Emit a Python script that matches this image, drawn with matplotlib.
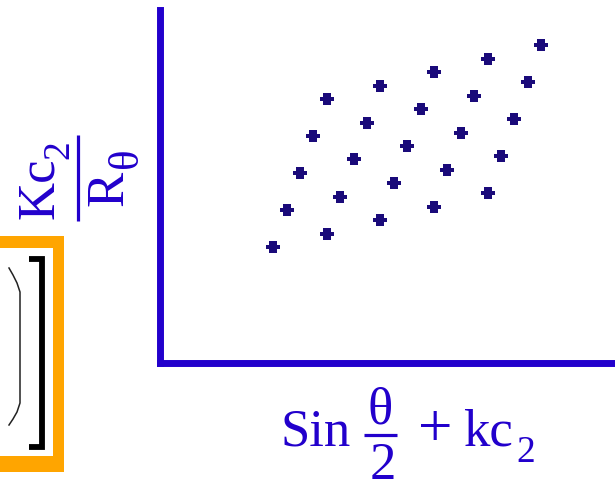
import matplotlib
matplotlib.use('Agg')
import matplotlib.pyplot as plt
from matplotlib.patches import Rectangle

# Zimm-type grid: 5 concentrations (rows) x 5 angles (columns)
sin_kc = [
    [1.138, 1.672, 2.205, 2.748, 3.282],
    [1.272, 1.808, 2.342, 2.878, 3.415],
    [1.405, 1.942, 2.478, 3.012, 3.548],
    [1.538, 2.078, 2.612, 3.148, 3.682],
    [1.672, 2.208, 2.748, 3.282, 3.818],
]
kc_over_r = [
    [1.160, 1.293, 1.430, 1.563, 1.700],
    [1.530, 1.663, 1.800, 1.933, 2.070],
    [1.900, 2.037, 2.170, 2.303, 2.440],
    [2.270, 2.403, 2.540, 2.673, 2.810],
    [2.640, 2.773, 2.910, 3.043, 3.180],
]

TEXT_BLUE = '#2200cc'
AXIS_BLUE = '#2200cc'
POINT_NAVY = '#1a0a7a'
ORANGE = '#ffa500'
FONT = 'Liberation Serif'

W, H = 615, 482
fig = plt.figure(figsize=(W / 100, H / 100), dpi=100)

# overlay in pixel coords for the decorations and label pieces
ov = fig.add_axes([0, 0, 1, 1])
ov.set_xlim(0, W)
ov.set_ylim(H, 0)
ov.axis('off')

# orange framed box on the left (cut off by the image edge)
ov.add_patch(Rectangle((-20, 236), 84, 236, facecolor=ORANGE, edgecolor='none'))
ov.add_patch(Rectangle((-20, 248), 73, 208, facecolor='white', edgecolor='none'))
ov.plot([29.3, 42, 42, 29.3], [259, 259, 446.5, 446.5], color='black', lw=4.2,
        solid_joinstyle='miter', solid_capstyle='butt')
ov.plot([9, 13, 17, 20, 20, 17, 13, 9], [268, 275, 283, 292, 403, 412, 419, 425],
        color='#222222', lw=1.1)

# x label: Sin (theta / 2) + kc2
ov.text(281, 445, 'Sin', fontsize=38, family=FONT, color=TEXT_BLUE, ha='left', va='baseline')
ov.text(380, 424, 'θ', fontsize=38, family=FONT, color=TEXT_BLUE, ha='center', va='baseline')
ov.plot([364, 397], [435, 435], color=TEXT_BLUE, lw=2.3, solid_capstyle='butt')
ov.text(382.5, 479, '2', fontsize=38, family=FONT, color=TEXT_BLUE, ha='center', va='baseline')
ov.text(435, 446, '+', fontsize=44, family=FONT, color=TEXT_BLUE, ha='center', va='baseline')
ov.text(463, 445, 'kc', fontsize=38, family=FONT, color=TEXT_BLUE, ha='left', va='baseline')
ov.text(516, 462, '2', fontsize=27, family=FONT, color=TEXT_BLUE, ha='left', va='baseline')

# y label: Kc2 / R_theta, rotated
rot = dict(rotation=90, rotation_mode='anchor', ha='left', va='baseline',
           family=FONT, color=TEXT_BLUE)
ov.text(53, 219, 'Kc', fontsize=38, **rot)
ov.text(68, 159, '2', fontsize=27, **rot)
ov.plot([77.5, 77.5], [135, 221], color=TEXT_BLUE, lw=2.3, solid_capstyle='butt')
ov.text(122, 206, 'R', fontsize=38, **rot)
ov.text(137, 168, 'θ', fontsize=31, **rot)

# main axes
ax = fig.add_axes([159.5 / W, (H - 363) / H, (W - 159.5) / W, (363 - 10.5) / H])
ax.set_facecolor('none')
verts = [(-1, -0.28), (-0.55, -0.28), (-0.55, -0.8), (0.55, -0.8), (0.55, -0.28),
         (1, -0.28), (1, 0.28), (0.55, 0.28), (0.55, 0.8), (-0.55, 0.8),
         (-0.55, 0.28), (-1, 0.28)]
for xs, ys in zip(sin_kc, kc_over_r):
    ax.plot(xs, ys, linestyle='none', marker=verts, markersize=10,
            color=POINT_NAVY, markeredgewidth=0)

ax.set_xlim(0, 4.555)
ax.set_ylim(0, 3.525)
ax.set_xticks([])
ax.set_yticks([])
for side in ['top', 'right']:
    ax.spines[side].set_visible(False)
for side in ['left', 'bottom']:
    ax.spines[side].set_linewidth(5)
    ax.spines[side].set_color(AXIS_BLUE)

plt.savefig('out.png', dpi=100)
